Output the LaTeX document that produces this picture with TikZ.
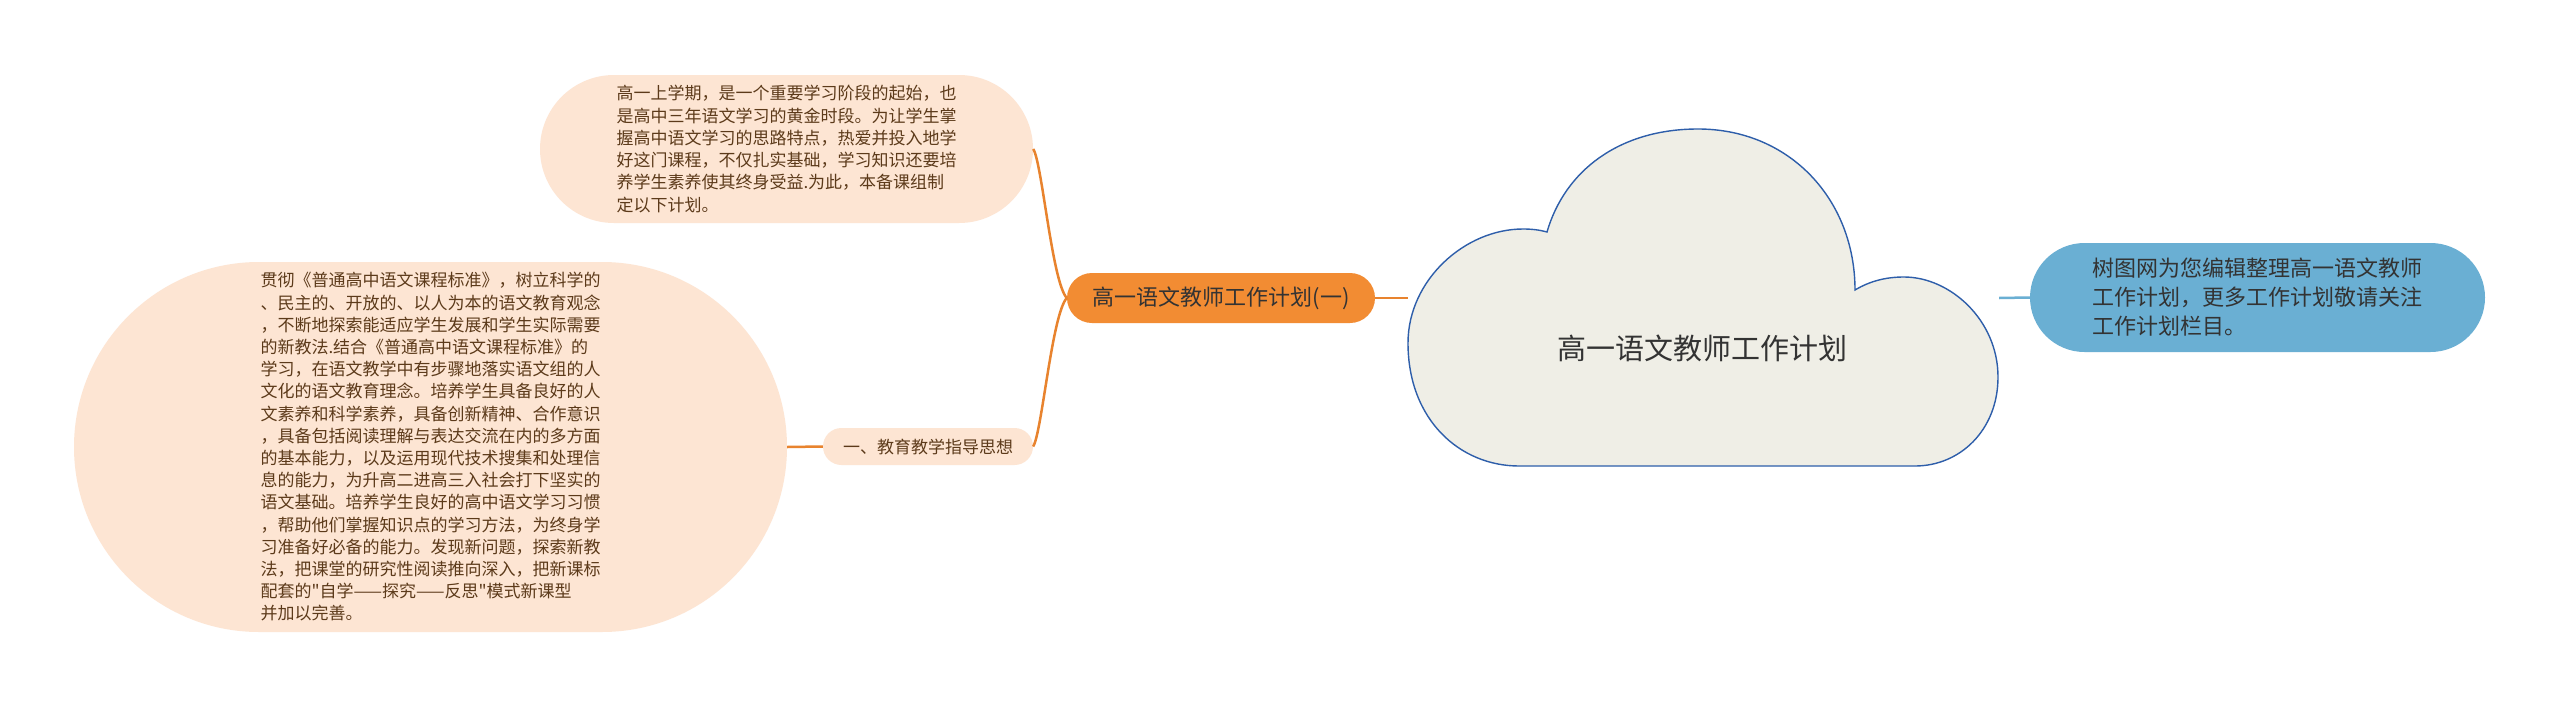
\documentclass[tikz,border=0pt]{standalone}
\usepackage{fontspec}
\setmainfont{Noto Sans CJK SC}[Ligatures=TeXOff]
\definecolor{peach}{HTML}{FDE5D3}
\definecolor{leaftext}{HTML}{5C3A1A}
\definecolor{orangefill}{HTML}{F28C33}
\definecolor{orangeline}{HTML}{E8832E}
\definecolor{bluefill}{HTML}{6AAFD3}
\definecolor{cloudfill}{HTML}{EFEEE6}
\definecolor{cloudline}{HTML}{2E5EAA}
\definecolor{darktext}{HTML}{333333}
\tikzset{
  leaf/.style={fill=peach, draw=none, inner sep=0pt, text=leaftext, align=left},
  conn/.style={draw=orangeline, line width=2.5pt},
  blueconn/.style={draw=bluefill, line width=2.5pt},
}
\begin{document}
\begin{tikzpicture}[x=1pt,y=-1pt]
\useasboundingbox (0,0) rectangle (2560,707);
\fill[white] (0,0) rectangle (2560,707);

% cloud
\draw[fill=cloudfill, draw=cloudline, line width=1.4pt]
  (1519,466) .. controls (1460,466) and (1408,420) .. (1408,343)
  .. controls (1408,280) and (1465,229) .. (1523,229)
  .. controls (1532,229) and (1540,230) .. (1547,232)
  .. controls (1565,170) and (1620,129) .. (1698,129)
  .. controls (1790,129) and (1855,200) .. (1855,290)
  .. controls (1870,281) and (1886,277) .. (1904,277)
  .. controls (1950,277) and (1998,320) .. (1998,377)
  .. controls (1998,430) and (1960,466) .. (1915,466)
  -- cycle;
\node[text=darktext, font=\fontsize{29}{34}\selectfont] (root) at (1702,348) {高一语文教师工作计划};
\coordinate (cloudL) at (1408,298);
\coordinate (cloudR) at (1999,298);

% nodes
\node[leaf, minimum width=493, minimum height=148, rounded corners=74,
      font=\fontsize{17}{22.3}\selectfont] (intro) at (786.5,149)
{高一上学期，是一个重要学习阶段的起始，也\\
是高中三年语文学习的黄金时段。为让学生掌\\
握高中语文学习的思路特点，热爱并投入地学\\
好这门课程，不仅扎实基础，学习知识还要培\\
养学生素养使其终身受益.为此，本备课组制\\
定以下计划。};

\node[leaf, minimum width=713, minimum height=370, rounded corners=185,
      font=\fontsize{17}{22.2}\selectfont] (big) at (430.5,447)
{贯彻《普通高中语文课程标准》，树立科学的\\
、民主的、开放的、以人为本的语文教育观念\\
，不断地探索能适应学生发展和学生实际需要\\
的新教法.结合《普通高中语文课程标准》的\\
学习，在语文教学中有步骤地落实语文组的人\\
文化的语文教育理念。培养学生具备良好的人\\
文素养和科学素养，具备创新精神、合作意识\\
，具备包括阅读理解与表达交流在内的多方面\\
的基本能力，以及运用现代技术搜集和处理信\\
息的能力，为升高二进高三入社会打下坚实的\\
语文基础。培养学生良好的高中语文学习习惯\\
，帮助他们掌握知识点的学习方法，为终身学\\
习准备好必备的能力。发现新问题，探索新教\\
法，把课堂的研究性阅读推向深入，把新课标\\
配套的"自学——探究——反思"模式新课型\\
并加以完善。};

\node[leaf, minimum width=210, minimum height=37, rounded corners=18.5,
      font=\fontsize{17}{20}\selectfont] (guide) at (928,446.5) {一、教育教学指导思想};

\node[fill=orangefill, inner sep=0pt, minimum width=308, minimum height=50,
      rounded corners=25, text=darktext, font=\fontsize{22}{26}\selectfont]
      (mid) at (1221,298) {高一语文教师工作计划(一)};

\node[fill=bluefill, inner sep=0pt, minimum width=455, minimum height=109,
      rounded corners=54.5, text=darktext, align=left,
      font=\fontsize{22}{29}\selectfont] (note) at (2257.5,297.5)
{树图网为您编辑整理高一语文教师\\
工作计划，更多工作计划敬请关注\\
工作计划栏目。};

% connectors
\draw[conn] (mid.west) .. controls (1052,282) and (1042,162) .. (intro.east);
\draw[conn] (mid.west) .. controls (1052,314) and (1042,432) .. (guide.east);
\draw[conn] (guide.west) -- (big.east);
\draw[conn] (mid.east) -- (cloudL);
\draw[blueconn] (cloudR) -- (note.west);
\end{tikzpicture}
\end{document}
